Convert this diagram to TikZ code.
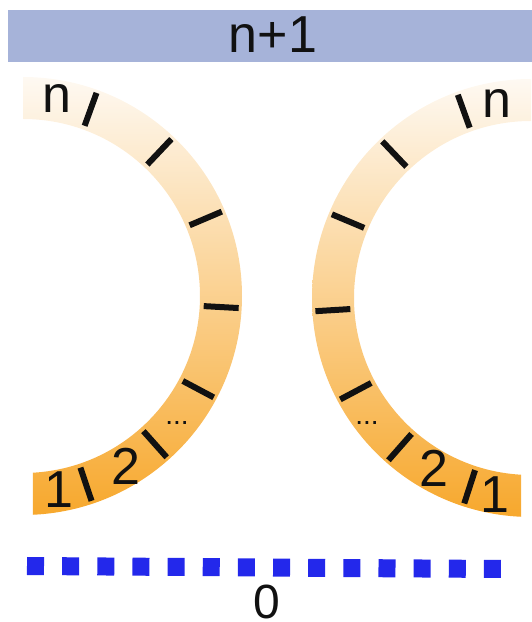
\documentclass[tikz,border=0pt]{standalone}
\usepackage{fontspec}
\setmainfont{Liberation Sans}
\definecolor{barblue}{RGB}{166,179,217}
\definecolor{arctop}{RGB}{254,249,242}
\definecolor{arcbot}{RGB}{247,168,45}
\definecolor{sqblue}{RGB}{35,40,235}
\definecolor{ink}{RGB}{17,17,17}
\begin{document}
\begin{tikzpicture}[x=1pt,y=1pt,
  lbl/.style={inner sep=0pt, anchor=base, text=ink, font=\fontsize{52}{60}\selectfont},
  dotlbl/.style={inner sep=0pt, anchor=base, text=ink, font=\fontsize{28}{32}\selectfont},
  tickmark/.style={line width=6pt, draw=ink},
  band/.style={top color=arctop, bottom color=arcbot}]
\useasboundingbox (0,0) rectangle (532,622);
% top bar
\fill[barblue] (8,560) rectangle (532,612);
\node[lbl] (top) at (273,569) {n+1};
% arc centres
\coordinate (L) at (23,326);
\coordinate (R) at (531,324);
% left arc
\shade[band] ([shift={(90:219)}]L) arc[start angle=90,end angle=-87.4,radius=219]
  -- ([shift={(-86.8:177)}]L) arc[start angle=-86.8,end angle=90,radius=177] -- cycle;
% right arc
\shade[band] ([shift={(90:219)}]R) arc[start angle=90,end angle=267.4,radius=219]
  -- ([shift={(266.8:177)}]R) arc[start angle=266.8,end angle=90,radius=177] -- cycle;
% ticks
\foreach \a in {70.1,46.6,23,-3.2,-28,-48.3,-71.5}
  \draw[tickmark] ([shift={(\a:181)}]L) -- ([shift={(\a:216)}]L);
\foreach \a in {109.8,133.5,157.2,183.5,208,228.7,252}
  \draw[tickmark] ([shift={(\a:181)}]R) -- ([shift={(\a:216)}]R);
% labels
\node[lbl] (ln) at (56.5,509) {n};
\node[lbl] (l1) at (59,114) {1};
\node[lbl] (l2) at (126,137) {2};
\node[dotlbl] (ld) at (177,197) {...};
\node[lbl] (rn) at (497,504) {n};
\node[lbl] (r2) at (434,135) {2};
\node[lbl] (r1) at (495,109) {1};
\node[dotlbl] (rd) at (367,197) {...};
% ground
\draw[sqblue, line width=18pt, dash pattern=on 17pt off 18.15pt] (27,56) -- (501,53);
\node[lbl, font=\fontsize{48}{56}\selectfont] (zero) at (267,4) {0};
\end{tikzpicture}
\end{document}
